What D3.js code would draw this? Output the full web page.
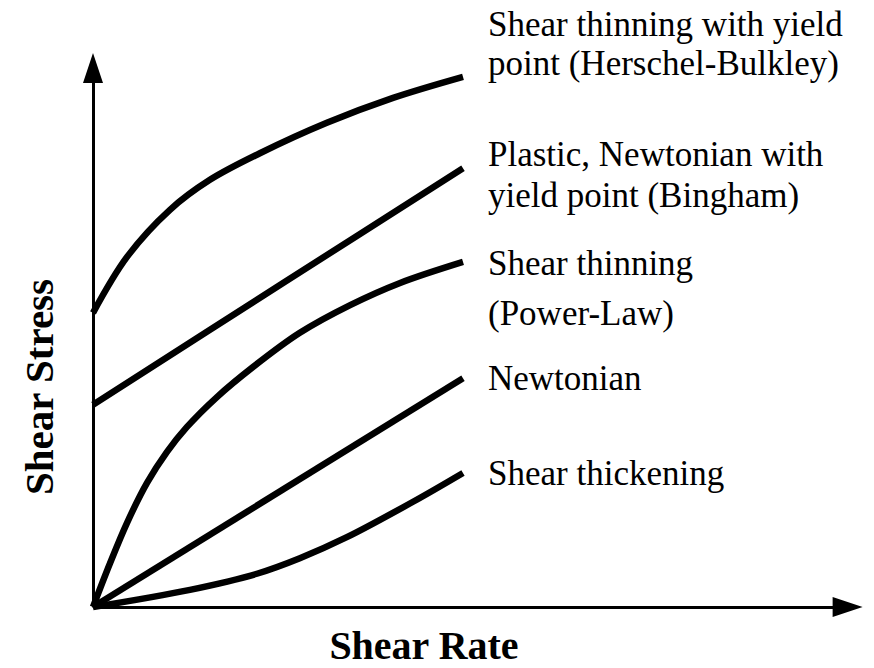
<!DOCTYPE html>
<html>
<head>
<meta charset="utf-8">
<script src="https://cdn.jsdelivr.net/npm/d3@7"></script>
<style>
  html, body { margin: 0; padding: 0; background: #fff; }
  svg { display: block; }
</style>
</head>
<body>
<svg id="chart" width="874" height="668"></svg>
<script>
// ---- Data (shear rate x, shear stress y; arbitrary units) ----
const herschelX = [0, 0.92, 2.08, 3.16, 4.51, 6.32, 8.11, 10];
const herschelY = [5.31, 6.32, 7.17, 7.71, 8.19, 8.74, 9.19, 9.57];
const binghamX = [0, 5.19, 10];
const binghamY = [3.65, 5.87, 7.92];
const powerX = [0, 0.46, 0.92, 1.46, 2.00, 2.54, 3.35, 4.32, 5.59, 6.95, 8.30, 10];
const powerY = [0, 0.79, 1.52, 2.24, 2.80, 3.25, 3.79, 4.33, 4.95, 5.45, 5.85, 6.23];
const newtonX = [0, 10];
const newtonY = [0, 4.13];
const thickX = [0, 2.62, 4.43, 5.59, 6.86, 8.65, 10];
const thickY = [0, 0.31, 0.60, 0.88, 1.26, 1.90, 2.42];

const seriesLabels = [
  ["Shear thinning with yield", "point (Herschel-Bulkley)"],
  ["Plastic, Newtonian with", "yield point (Bingham)"],
  ["Shear thinning", "(Power-Law)"],
  ["Newtonian"],
  ["Shear thickening"]
];
const xTitle = "Shear Rate";
const yTitle = "Shear Stress";
const xAxisMax = 20.8;
const yAxisMax = 10;

// ---- Layout ----
const svg = d3.select("#chart");
const x = d3.scaleLinear().domain([0, 10]).range([93, 463]);
const y = d3.scaleLinear().domain([0, 10]).range([607, 53]);

const series = [
  [herschelX, herschelY],
  [binghamX, binghamY],
  [powerX, powerY],
  [newtonX, newtonY],
  [thickX, thickY]
].map(([xs, ys]) => xs.map((v, i) => [v, ys[i]]));

// Axes (library axes without ticks)
const xAxisScale = d3.scaleLinear().domain([0, xAxisMax]).range([x(0), x(xAxisMax) - 26]);
const yAxisScale = d3.scaleLinear().domain([0, yAxisMax]).range([y(0), y(yAxisMax) + 26]);

const gx = svg.append("g").attr("transform", `translate(0,${y(0)})`)
  .call(d3.axisBottom(xAxisScale).tickValues([]).tickSizeOuter(0));
const gy = svg.append("g").attr("transform", `translate(${x(0)},0)`)
  .call(d3.axisLeft(yAxisScale).tickValues([]).tickSizeOuter(0));
[gx, gy].forEach(g => g.select(".domain").attr("stroke", "#000").attr("stroke-width", 3));

// Arrow heads
const ax = x(xAxisMax), ay = y(0);
svg.append("path")
  .attr("d", `M${ax},${ay} L${ax - 30},${ay - 10} L${ax - 30},${ay + 10} Z`)
  .attr("fill", "#000");
const bx = x(0), by = y(yAxisMax);
svg.append("path")
  .attr("d", `M${bx},${by} L${bx - 10},${by + 30} L${bx + 10},${by + 30} Z`)
  .attr("fill", "#000");

// Curves
const line = d3.line()
  .x(d => x(d[0]))
  .y(d => y(d[1]))
  .curve(d3.curveCatmullRom.alpha(0.5));

svg.append("g").selectAll("path")
  .data(series)
  .join("path")
  .attr("d", line)
  .attr("fill", "none")
  .attr("stroke", "#000")
  .attr("stroke-width", 6.5)
  .attr("stroke-linejoin", "round");

// Series labels
const labelBaselines = [[36, 75], [166, 207], [275, 325], [390], [485]];
const lg = svg.append("g")
  .attr("font-family", "'Liberation Serif', 'Times New Roman', serif")
  .attr("font-size", 35)
  .attr("fill", "#000");
seriesLabels.forEach((lines, i) => {
  lines.forEach((t, j) => {
    lg.append("text")
      .attr("x", 488)
      .attr("y", labelBaselines[i][j])
      .text(t);
  });
});

// Axis titles
svg.append("text")
  .attr("x", 424)
  .attr("y", 659)
  .attr("text-anchor", "middle")
  .attr("font-family", "'Liberation Serif', 'Times New Roman', serif")
  .attr("font-weight", "bold")
  .attr("font-size", 40)
  .attr("fill", "#000")
  .text(xTitle);

svg.append("text")
  .attr("transform", "translate(53,387) rotate(-90)")
  .attr("text-anchor", "middle")
  .attr("font-family", "'Liberation Serif', 'Times New Roman', serif")
  .attr("font-weight", "bold")
  .attr("font-size", 41)
  .attr("fill", "#000")
  .text(yTitle);
</script>
</body>
</html>
